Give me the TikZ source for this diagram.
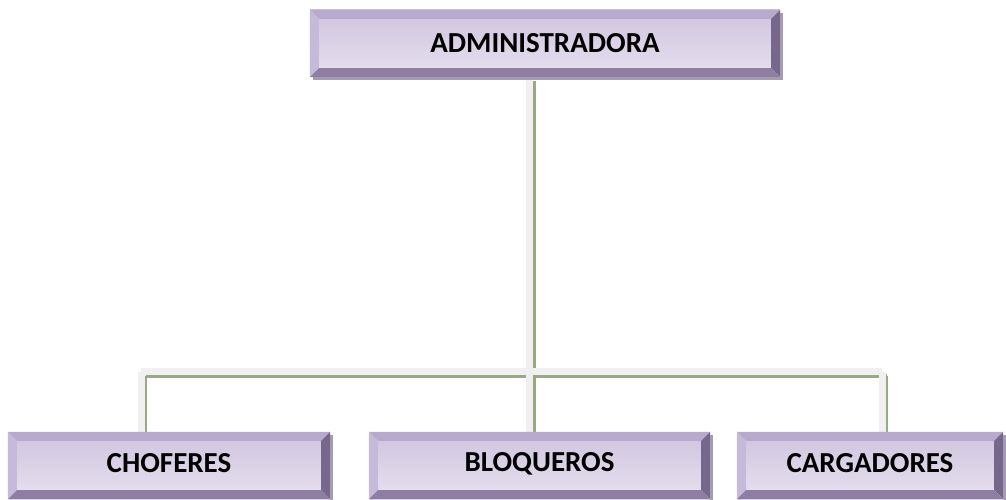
\documentclass[tikz,border=0pt]{standalone}
\usepackage{fontspec}
\setmainfont{Carlito}
\usetikzlibrary{calc}
\definecolor{bvtop}{HTML}{B8A9CE}
\definecolor{bvleft}{HTML}{C6BADB}
\definecolor{bvright}{HTML}{76678C}
\definecolor{bvbot}{HTML}{8E7EA3}
\definecolor{facetop}{HTML}{CFC3DE}
\definecolor{facebot}{HTML}{E7E1EF}
\definecolor{shadowc}{HTML}{A59DAF}
\definecolor{linew}{HTML}{F0F0F0}
\definecolor{lineg}{HTML}{9AA886}
\newcommand\bevelit[1]{%
  \fill[bvtop] (#1.north west) -- (#1.north east) -- ($(#1.north east)+(-9,9)$) -- ($(#1.north west)+(9,9)$) -- cycle;
  \fill[bvleft] (#1.north west) -- ($(#1.north west)+(9,9)$) -- ($(#1.south west)+(9,-9)$) -- (#1.south west) -- cycle;
  \fill[bvright] (#1.north east) -- (#1.south east) -- ($(#1.south east)+(-9,-9)$) -- ($(#1.north east)+(-9,9)$) -- cycle;
  \fill[bvbot] (#1.south west) -- ($(#1.south west)+(9,-9)$) -- ($(#1.south east)+(-9,-9)$) -- (#1.south east) -- cycle;
}
\begin{document}
\begin{tikzpicture}[x=1pt,y=-1pt,
  box/.style={rectangle, inner sep=0pt, minimum height=67pt, top color=facetop, bottom color=facebot},
  lbl/.style={font=\fontsize{29}{33}\selectfont\bfseries, text=black},
  wline/.style={draw=linew, line width=7pt},
  gline/.style={draw=lineg, line width=3.5pt}]
\useasboundingbox (0,0) rectangle (1006,500);
% connector coordinates
\coordinate (j) at (529.5,371.5);
\coordinate (b1) at (141,371.5);
\coordinate (b3) at (882,371.5);
\coordinate (admb) at (529.5,77);
\coordinate (rowtop) at (0,432);
% connectors: green shade
\begin{scope}[transform canvas={xshift=4.5pt,yshift=-4.5pt}]
\draw[gline] (admb) -- (j);
\draw[gline] (j) -- (j |- rowtop);
\draw[gline] (b1) -- (b3);
\draw[gline] (b1) -- (b1 |- rowtop);
\draw[gline] (b3) -- (b3 |- rowtop);
\end{scope}
% connectors: white
\draw[wline] (admb) -- (j);
\draw[wline] (j) -- (j |- rowtop);
\draw[wline] (b1) -- (b3);
\draw[wline] (b1) -- (b1 |- rowtop);
\draw[wline] (b3) -- (b3 |- rowtop);
% shadows
\fill[shadowc] (313,13) rectangle (783,80);
\fill[shadowc] (11,435) rectangle (333,502);
\fill[shadowc] (372,435) rectangle (713,502);
\fill[shadowc] (740,435) rectangle (1006,502);
% boxes
\node[box, minimum width=470pt] (adm) at (545,43.5) {};
\node[box, minimum width=322pt] (cho) at (169,465.5) {};
\node[box, minimum width=341pt] (blo) at (539.5,465.5) {};
\node[box, minimum width=266pt] (car) at (870,465.5) {};
\bevelit{adm}\bevelit{cho}\bevelit{blo}\bevelit{car}
\node[lbl] (admt) at (adm) {ADMINISTRADORA};
\node[lbl] (chot) at ([yshift=2pt]cho) {CHOFERES};
\node[lbl] (blot) at ([yshift=2pt]blo) {BLOQUEROS};
\node[lbl] (cart) at ([yshift=2pt]car) {CARGADORES};
\end{tikzpicture}
\end{document}
